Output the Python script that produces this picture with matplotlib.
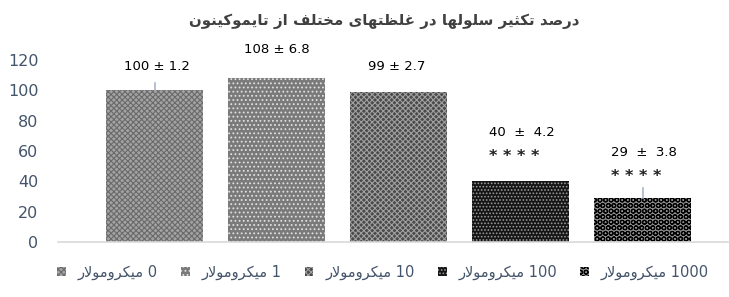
import numpy as np
import matplotlib
matplotlib.use('Agg')
import matplotlib.pyplot as plt

# ---- data ----
title_text = 'درصد تکثیر سلولها در غلظتهای مختلف از تایموکینون'
series_names = ['0 میکرومولار', '1 میکرومولار', '10 میکرومولار', '100 میکرومولار', '1000 میکرومولار']
values = [100, 108, 99, 40, 29]
sd = [1.2, 6.8, 2.7, 4.2, 3.8]
err_drawn = [5, 0, 0, 0, 6.5]          # only these whiskers are visible in the picture
stars = ['', '', '', '****', '****']
yticks = [0, 20, 40, 60, 80, 100, 120]

# ---- simple arabic shaping (no arabic_reshaper available) ----
FORMS = {
    'ا': ('\uFE8D', '\uFE8E', None, None),
    'ت': ('\uFE95', '\uFE96', '\uFE97', '\uFE98'),
    'ث': ('\uFE99', '\uFE9A', '\uFE9B', '\uFE9C'),
    'خ': ('\uFEA5', '\uFEA6', '\uFEA7', '\uFEA8'),
    'د': ('\uFEA9', '\uFEAA', None, None),
    'ر': ('\uFEAD', '\uFEAE', None, None),
    'ز': ('\uFEAF', '\uFEB0', None, None),
    'س': ('\uFEB1', '\uFEB2', '\uFEB3', '\uFEB4'),
    'ص': ('\uFEB9', '\uFEBA', '\uFEBB', '\uFEBC'),
    'ظ': ('\uFEC5', '\uFEC6', '\uFEC7', '\uFEC8'),
    'غ': ('\uFECD', '\uFECE', '\uFECF', '\uFED0'),
    'ف': ('\uFED1', '\uFED2', '\uFED3', '\uFED4'),
    'ل': ('\uFEDD', '\uFEDE', '\uFEDF', '\uFEE0'),
    'م': ('\uFEE1', '\uFEE2', '\uFEE3', '\uFEE4'),
    'ن': ('\uFEE5', '\uFEE6', '\uFEE7', '\uFEE8'),
    'ه': ('\uFEE9', '\uFEEA', '\uFEEB', '\uFEEC'),
    'و': ('\uFEED', '\uFEEE', None, None),
    'ک': ('\uFB8E', '\uFB8F', '\uFB90', '\uFB91'),
    'ی': ('\uFBFC', '\uFBFD', '\uFBFE', '\uFBFF'),
}


def dual(c):
    return c in FORMS and FORMS[c][2] is not None


def shape_word(w):
    out = []
    i = 0
    while i < len(w):
        c = w[i]
        if c not in FORMS:
            out.append(c)
            i += 1
            continue
        prev_joins = i > 0 and dual(w[i - 1])
        if c == 'ل' and i + 1 < len(w) and w[i + 1] == 'ا':
            out.append('\uFEFC' if prev_joins else '\uFEFB')
            i += 2
            continue
        next_joins = dual(c) and i + 1 < len(w) and w[i + 1] in FORMS
        iso, fin, ini, med = FORMS[c]
        if prev_joins and next_joins:
            out.append(med)
        elif prev_joins:
            out.append(fin)
        elif next_joins:
            out.append(ini)
        else:
            out.append(iso)
        i += 1
    return ''.join(out)


def rtl(s):
    # rtl paragraph: word order reversed, arabic words reversed char-wise
    toks = s.split(' ')
    vis = []
    for t in reversed(toks):
        if any(ch in FORMS for ch in t):
            vis.append(shape_word(t)[::-1])
        else:
            vis.append(t)
    return ' '.join(vis)


plt.rcParams['hatch.linewidth'] = 0.8

fills = ['#a3a3a3', '#7a7a7a', '#4a4a4a', '#141414', '#8f8f8f']
hatch_col = ['#6a6a6a', '#e0e0e0', '#a0a0a0', '#9a9a9a', '#000000']
hatches = ['xxxxxx', '....', 'xxxxxx', '.....', 'OOO']

fig = plt.figure(figsize=(7.29, 2.97), dpi=100)
ax = fig.add_axes([58 / 729, 1 - 242 / 297, 670 / 729, 182 / 297])

x = np.arange(len(values))
bars = ax.bar(x, values, width=0.795, color=fills, edgecolor=hatch_col, linewidth=0)
for b, h in zip(bars, hatches):
    b.set_hatch(h)

for i in range(len(values)):
    if err_drawn[i] > 0:
        ax.plot([x[i], x[i]], [values[i], values[i] + err_drawn[i]], color='#a9b6c8', lw=1.2, zorder=3)

# value labels
lab_y = [116, 127, 116, 72, 58.7]
lab_dx = [0.02, 0, -0.02, 0.01, 0.01]
for i in range(len(values)):
    if i >= 3:
        txt = '%d  ±  %.1f' % (values[i], sd[i])
    else:
        txt = '%d ± %.1f' % (values[i], sd[i])
    ax.text(x[i] + lab_dx[i], lab_y[i], txt, ha='center', va='center', fontsize=9.5,
            family='DejaVu Sans', color='#000000')
    if stars[i]:
        ax.text(x[i] - 0.055, lab_y[i] - 15.5, ' '.join(stars[i]), ha='center',
                va='center', fontsize=11.5, fontweight='bold', color='#222222')

ax.set_xlim(-0.795, -0.795 + 670 / 122)
ax.set_ylim(0, 120)
ax.set_yticks(yticks)
ax.set_xticks([])
ax.tick_params(axis='y', length=0, pad=14, labelsize=11.5, labelcolor='#44546a')
for lbl in ax.get_yticklabels():
    lbl.set_family('DejaVu Sans')
for s in ['top', 'right', 'left']:
    ax.spines[s].set_visible(False)
ax.spines['bottom'].set_color('#d9d9d9')
ax.spines['bottom'].set_linewidth(1.2)

fig.text(0.527, 1 - 21 / 297, rtl(title_text), ha='center', va='center', fontsize=10.8,
         fontweight='bold', color='#404040', family='DejaVu Sans')

handles = []
for i in range(len(values)):
    p = plt.Rectangle((0, 0), 1, 1, facecolor=fills[i], edgecolor=hatch_col[i], linewidth=0,
                      hatch=hatches[i])
    handles.append(p)
leg = fig.legend(handles, [rtl(n) for n in series_names], loc='center', ncol=5,
                 bbox_to_anchor=(383 / 729, 1 - 272 / 297), frameon=False,
                 prop={'family': 'DejaVu Sans', 'size': 10.5},
                 handlelength=0.6, handleheight=0.6, handletextpad=0.8, columnspacing=1.6)
for t in leg.get_texts():
    t.set_color('#44546a')

fig.savefig('out.png', dpi=100)
